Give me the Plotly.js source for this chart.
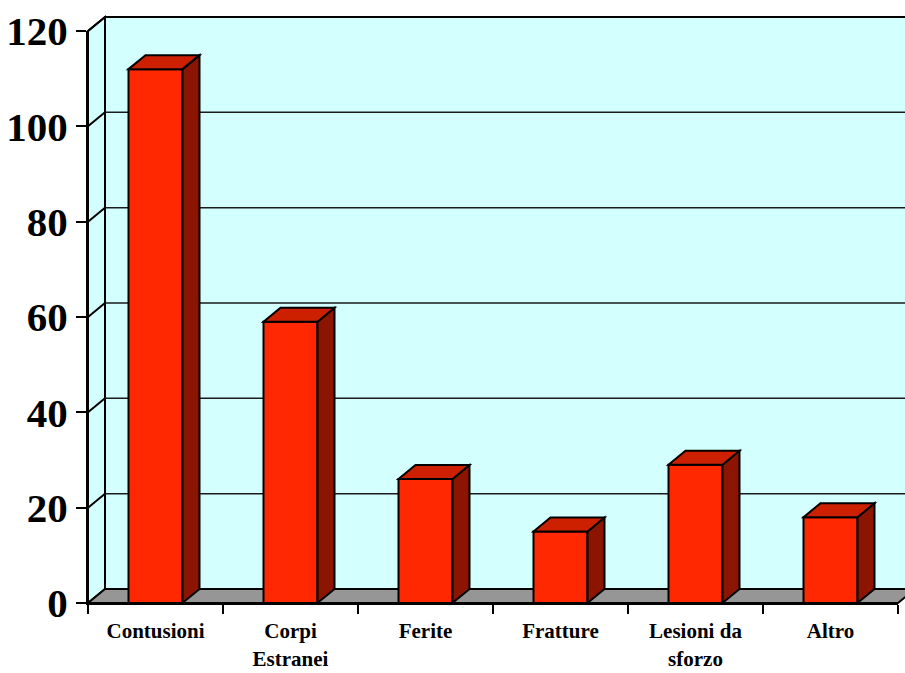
<!DOCTYPE html>
<html>
<head>
<meta charset="utf-8">
<script src="https://cdn.plot.ly/plotly-3.0.1.min.js"></script>
<style>html,body{margin:0;padding:0;background:#fff;}#chart{width:905px;height:673px;}</style>
</head>
<body>
<div id="chart"></div>
<script>
// ---- data ----
var categories = ["Contusioni", "Corpi<br>Estranei", "Ferite", "Fratture", "Lesioni da<br>sforzo", "Altro"];
var values = [112, 59, 26, 15, 29, 18];
var yTicks = [0, 20, 40, 60, 80, 100, 120];

// ---- style / geometry ----
var W = 905, H = 673;
var M = {l: 88, r: 7, t: 31, b: 70};
var plotW = W - M.l - M.r, plotH = H - M.t - M.b;
var yMax = 120;
var DX = 17 / plotW, DY = 14 / plotH;   // depth of the 3D effect in paper units
var barW = 0.4;
var nCat = categories.length;
var wallColor = "#D4FFFF", floorColor = "#969696";
var frontColor = "#FF2800", topColor = "#CC2000", sideColor = "#8B1500";

function px(xData) { return (xData + 0.5) / nCat; }     // category axis -> paper
function py(v) { return v / yMax; }                    // value axis -> paper
function pt(x, y) { return x.toFixed(5) + "," + y.toFixed(5); }

var shapes = [];
// back wall
shapes.push({type: "rect", xref: "paper", yref: "paper", layer: "below",
  x0: DX, x1: 1 + DX + 0.05, y0: DY, y1: 1 + DY,
  fillcolor: wallColor, line: {color: "#000", width: 2}});
// left side wall
shapes.push({type: "path", xref: "paper", yref: "paper", layer: "below",
  path: "M" + pt(0, 0) + " L" + pt(0, 1) + " L" + pt(DX, 1 + DY) + " L" + pt(DX, DY) + " Z",
  fillcolor: wallColor, line: {color: "#000", width: 2}});
// grid lines on back and side wall
yTicks.forEach(function (v) {
  if (v === 0) return;
  if (v < yMax) {
    shapes.push({type: "line", xref: "paper", yref: "paper", layer: "below",
      x0: DX, x1: 1 + DX + 0.05, y0: py(v) + DY, y1: py(v) + DY,
      line: {color: "#1a1a1a", width: 1.5}});
  }
  shapes.push({type: "line", xref: "paper", yref: "paper", layer: "below",
    x0: 0, x1: DX, y0: py(v), y1: py(v) + DY,
    line: {color: "#000", width: 2}});
});
// floor
shapes.push({type: "path", xref: "paper", yref: "paper", layer: "below",
  path: "M" + pt(0, 0) + " L" + pt(DX, DY) + " L" + pt(1 + DX, DY) + " L" + pt(1, 0) + " Z",
  fillcolor: floorColor, line: {color: "#000", width: 2}});

// 3D top & side faces of the bars
values.forEach(function (v, i) {
  var x0 = px(i - barW / 2), x1 = px(i + barW / 2), y = py(v);
  shapes.push({type: "path", xref: "paper", yref: "paper", layer: "above",
    path: "M" + pt(x1, 0) + " L" + pt(x1, y) + " L" + pt(x1 + DX, y + DY) + " L" + pt(x1 + DX, DY) + " Z",
    fillcolor: sideColor, line: {color: "#000", width: 2}});
  shapes.push({type: "path", xref: "paper", yref: "paper", layer: "above",
    path: "M" + pt(x0, y) + " L" + pt(x0 + DX, y + DY) + " L" + pt(x1 + DX, y + DY) + " L" + pt(x1, y) + " Z",
    fillcolor: topColor, line: {color: "#000", width: 2}});
});

var font = "'Liberation Serif', 'Times New Roman', serif";
var trace = {
  type: "bar", x: categories, y: values, width: barW,
  marker: {color: frontColor, line: {color: "#000", width: 2}},
  hoverinfo: "x+y"
};

var layout = {
  width: W, height: H, margin: M, showlegend: false,
  paper_bgcolor: "#fff", plot_bgcolor: "rgba(0,0,0,0)",
  xaxis: {type: "category", range: [-0.5, nCat - 0.5], showgrid: false, zeroline: false,
    showline: true, linecolor: "#000", linewidth: 2,
    ticks: "outside", tickson: "boundaries", ticklen: 9, tickwidth: 2, tickcolor: "#000",
    ticklabelstandoff: 8,
    tickfont: {family: font, size: 21, weight: "bold", color: "#000"}, fixedrange: true},
  yaxis: {range: [0, yMax], tickvals: yTicks, showgrid: false, zeroline: false,
    showline: true, linecolor: "#000", linewidth: 2,
    ticks: "outside", ticklen: 10, tickwidth: 2, tickcolor: "#000",
    tickfont: {family: font, size: 41, weight: "bold", color: "#000"}, fixedrange: true},
  shapes: shapes
};

Plotly.newPlot("chart", [trace], layout, {displayModeBar: false, staticPlot: true});
</script>
</body>
</html>
